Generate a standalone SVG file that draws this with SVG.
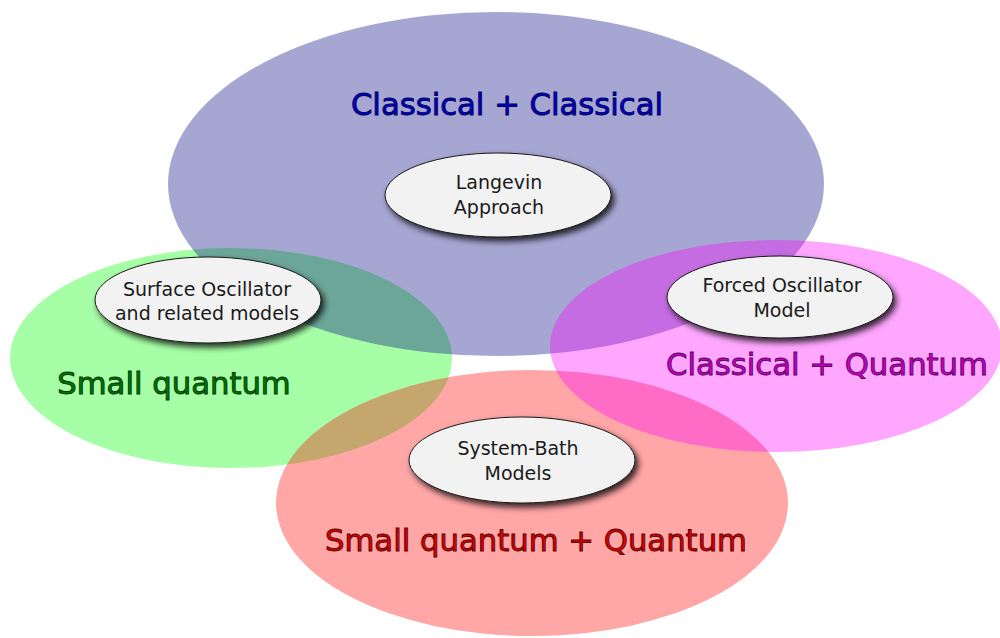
<svg xmlns="http://www.w3.org/2000/svg" width="1000" height="638" viewBox="0 0 1000 638">
<defs>
<filter id="sh" x="-20%" y="-30%" width="150%" height="170%">
<feGaussianBlur in="SourceAlpha" stdDeviation="3"/>
<feOffset dx="3" dy="4" result="b"/>
<feComponentTransfer><feFuncA type="linear" slope="0.8"/></feComponentTransfer>
<feMerge><feMergeNode/><feMergeNode in="SourceGraphic"/></feMerge>
</filter>
</defs>
<style>
.big{opacity:0.35}
.node{fill:#f2f2f2;stroke:#1a1a1a;stroke-width:1;filter:url(#sh)}
.lbl{font-family:"DejaVu Sans",sans-serif;font-size:19px;fill:#1a1a1a;text-anchor:middle}
.ttl{font-family:"DejaVu Sans",sans-serif;font-size:30.7px;text-anchor:middle;stroke-width:0.9}
</style>
<rect width="1000" height="638" fill="#ffffff"/>
<g id="set-small-quantum">
<ellipse class="big" cx="231" cy="358" rx="221" ry="110" fill="#00ff00"/>
</g>
<g id="set-classical-classical">
<ellipse class="big" cx="496" cy="184" rx="328" ry="172" fill="#000080"/>
</g>
<g id="set-small-quantum-quantum">
<ellipse class="big" cx="532" cy="503" rx="256" ry="133" fill="#ff0000"/>
</g>
<g id="set-classical-quantum">
<ellipse class="big" cx="776" cy="346" rx="226" ry="106" fill="#ff00ff"/>
</g>
<g id="titles">
<text class="ttl" x="507" y="115" fill="#0000cc" stroke="#000055">Classical + Classical</text>
<text class="ttl" x="174" y="394" fill="#007700" stroke="#003300">Small quantum</text>
<text class="ttl" x="827" y="375" fill="#cc00cc" stroke="#550055">Classical + Quantum</text>
<text class="ttl" x="536" y="551" fill="#dd0000" stroke="#550000">Small quantum + Quantum</text>
</g>
<g id="langevin">
<ellipse class="node" cx="498" cy="195" rx="113" ry="42"/>
<text class="lbl" x="499" y="189">Langevin</text>
<text class="lbl" x="499" y="214">Approach</text>
</g>
<g id="surface">
<ellipse class="node" cx="208" cy="300" rx="113" ry="43"/>
<text class="lbl" x="207" y="296">Surface Oscillator</text>
<text class="lbl" x="207" y="320">and related models</text>
</g>
<g id="forced">
<ellipse class="node" cx="780" cy="297" rx="113" ry="41"/>
<text class="lbl" x="782" y="292">Forced Oscillator</text>
<text class="lbl" x="782" y="317">Model</text>
</g>
<g id="systembath">
<ellipse class="node" cx="522" cy="460" rx="113" ry="43"/>
<text class="lbl" x="518" y="455">System-Bath</text>
<text class="lbl" x="518" y="480">Models</text>
</g>
<g id="connectors"/>
</svg>
